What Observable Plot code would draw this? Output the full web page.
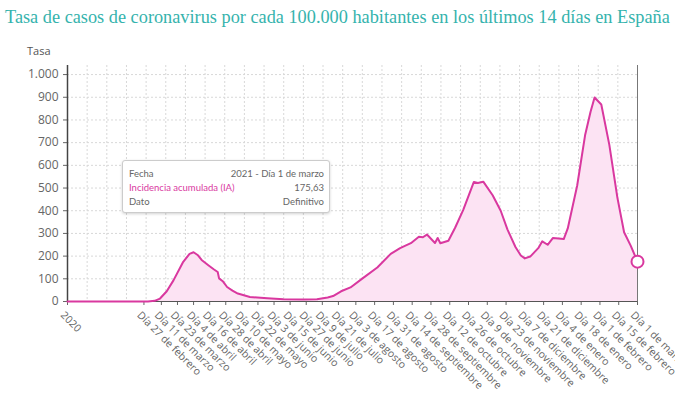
<!DOCTYPE html>
<html>
<head>
<meta charset="utf-8">
<script src="https://cdn.jsdelivr.net/npm/d3@7"></script>
<script src="https://cdn.jsdelivr.net/npm/@observablehq/plot@0.6"></script>
<style>
  body { margin: 0; background: #fff; }
  #wrap { position: relative; width: 675px; height: 400px; overflow: hidden; }
  #title { height: 30px; box-sizing: border-box; padding: 8px 0 0 5px; font-family: "Liberation Serif", serif; font-size: 18.3px; line-height: 18px; color: #35b3ad; white-space: nowrap; }
  #ylab { position: absolute; left: 27px; top: 43px; font-family: "Open Sans", sans-serif; font-size: 11px; color: #555; }
  #tip { position: absolute; left: 122px; top: 160px; width: 208px; height: 53px; box-sizing: border-box; background: #fff; border: 1px solid #ccc; border-radius: 3px; box-shadow: 0 1px 3px rgba(0,0,0,0.18); padding: 6px 5px 5px 6px; font-family: Lato, sans-serif; font-size: 9.5px; line-height: 14px; color: #666; }
  #tip .row { display: flex; justify-content: space-between; }
  #tip .ia { color: #d9389f; }
</style>
</head>
<body>
<div id="wrap">
  <div id="title">Tasa de casos de coronavirus por cada 100.000 habitantes en los últimos 14 días en España</div>
  <div id="chart"></div>
  <div id="ylab">Tasa</div>
  <div id="tip">
    <div class="row"><span>Fecha</span><span>2021 - Día 1 de marzo</span></div>
    <div class="row"><span class="ia">Incidencia acumulada (IA)</span><span>175,63</span></div>
    <div class="row"><span>Dato</span><span>Definitivo</span></div>
  </div>
</div>
<script>
const dates = ["2020-01-01","2020-02-20","2020-03-01","2020-03-06","2020-03-10","2020-03-15","2020-03-20","2020-03-27","2020-04-01","2020-04-04","2020-04-07","2020-04-10","2020-04-15","2020-04-19","2020-04-22","2020-04-23","2020-04-26","2020-04-29","2020-05-03","2020-05-07","2020-05-16","2020-05-29","2020-06-10","2020-06-25","2020-07-05","2020-07-13","2020-07-17","2020-07-23","2020-07-30","2020-08-08","2020-08-19","2020-08-29","2020-09-05","2020-09-13","2020-09-19","2020-09-22","2020-09-25","2020-10-01","2020-10-03","2020-10-05","2020-10-11","2020-10-16","2020-10-22","2020-10-30","2020-11-02","2020-11-06","2020-11-13","2020-11-19","2020-11-24","2020-11-30","2020-12-04","2020-12-07","2020-12-11","2020-12-17","2020-12-20","2020-12-24","2020-12-28","2021-01-05","2021-01-08","2021-01-15","2021-01-21","2021-01-25","2021-01-28","2021-02-02","2021-02-08","2021-02-14","2021-02-19","2021-02-24","2021-03-01"];
const values = [0,0,0.5,3,13,45,93,172,210,217,205,183,160,142,130,102,88,64,48,35,20,14,10,9,10,18,24,45,62,102,150,210,235,257,285,283,295,258,280,257,268,325,403,527,522,528,468,400,318,240,203,190,198,235,265,250,280,275,322,510,735,836,899,868,690,458,305,245,175.63];

const tickDates = ["2020-01-01","2020-02-27","2020-03-11","2020-03-23","2020-04-04","2020-04-16","2020-04-28","2020-05-10","2020-05-22","2020-06-03","2020-06-15","2020-06-27","2020-07-09","2020-07-21","2020-08-03","2020-08-17","2020-08-31","2020-09-14","2020-09-28","2020-10-12","2020-10-26","2020-11-09","2020-11-23","2020-12-07","2020-12-21","2021-01-04","2021-01-18","2021-02-01","2021-02-15","2021-03-01"];
const tickLabels = ["2020","Día 27 de febrero","Día 11 de marzo","Día 23 de marzo","Día 4 de abril","Día 16 de abril","Día 28 de abril","Día 10 de mayo","Día 22 de mayo","Día 3 de junio","Día 15 de junio","Día 27 de junio","Día 9 de julio","Día 21 de julio","Día 3 de agosto","Día 17 de agosto","Día 31 de agosto","Día 14 de septiembre","Día 28 de septiembre","Día 12 de octubre","Día 26 de octubre","Día 9 de noviembre","Día 23 de noviembre","Día 7 de diciembre","Día 21 de diciembre","Día 4 de enero","Día 18 de enero","Día 1 de febrero","Día 15 de febrero","Día 1 de marzo"];
const yTicks = [0,100,200,300,400,500,600,700,800,900,1000];

const data = dates.map((d, i) => ({date: new Date(d), value: values[i]}));
const ticks = tickDates.map(d => new Date(d));
const labelOf = new Map(ticks.map((d, i) => [+d, tickLabels[i]]));
const x0 = ticks[0], x1 = ticks[ticks.length - 1];
const nGrid = 29;
const gridDates = d3.range(1, nGrid).map(i => new Date(+x0 + i * (x1 - x0) / nGrid));
const last = data[data.length - 1];
const lineColor = "#d9389f";

const plot = Plot.plot({
  width: 675,
  height: 370,
  marginTop: 35,
  marginLeft: 67,
  marginRight: 38,
  marginBottom: 99,
  style: {fontFamily: "'Open Sans', sans-serif", fontSize: "11px", color: "#666", background: "transparent"},
  x: {type: "utc", domain: [x0, x1], ticks: ticks, tickFormat: d => labelOf.get(+d) ?? "", tickRotate: 45, tickSize: 4, label: null},
  y: {domain: [0, 1040], ticks: yTicks, tickFormat: d => d3.format(",")(d).replace(/,/g, "."), tickSize: 4, label: null},
  marks: [
    Plot.ruleY(yTicks.slice(1), {stroke: "#d8d8d8", strokeDasharray: "2,2"}),
    Plot.ruleX(gridDates, {stroke: "#d8d8d8", strokeDasharray: "2,2"}),
    Plot.areaY(data, {x: "date", y: "value", fill: "#fce3f3"}),
    Plot.ruleY([0], {stroke: "#555"}),
    Plot.ruleX([x0], {stroke: "#444", strokeWidth: 1.5}),
    Plot.ruleX([x1], {stroke: "#777"}),
    Plot.lineY(data, {x: "date", y: "value", stroke: lineColor, strokeWidth: 2}),
    Plot.dot([last], {x: "date", y: "value", r: 6, fill: "white", stroke: lineColor, strokeWidth: 2})
  ]
});
document.getElementById("chart").appendChild(plot);
d3.select(plot).selectAll("g[aria-label^='y-axis'] text").style("font-size", "12px");
d3.select(plot).selectAll("g[aria-label^='x-axis'] text").style("font-size", "10.5px").each(function() {
  const t = this.getAttribute("transform") || "";
  this.setAttribute("transform", "translate(-5,0) " + t);
});
</script>
</body>
</html>
